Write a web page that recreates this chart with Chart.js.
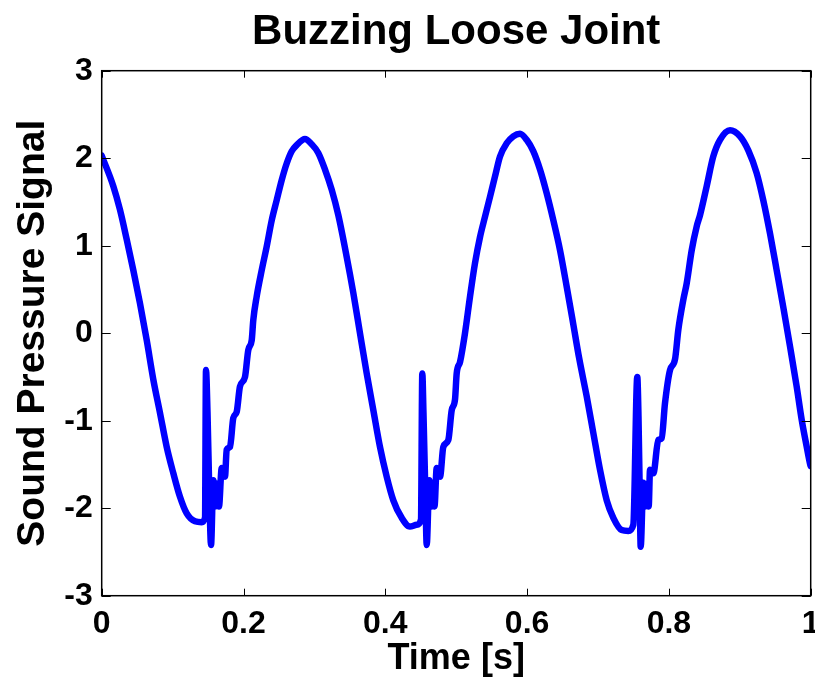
<!DOCTYPE html>
<html>
<head>
<meta charset="utf-8">
<title>Buzzing Loose Joint</title>
<script src="https://cdn.jsdelivr.net/npm/chart.js@4.4.1/dist/chart.umd.min.js"></script>
<style>
  html, body { margin: 0; padding: 0; background: #fff; }
  #wrap { width: 815px; height: 682px; }
</style>
</head>
<body>
<div id="wrap"><canvas id="chart" width="815" height="682"></canvas></div>
<script>
// time axis [s]
const timeValues = [
  0, 0.0164, 0.0258, 0.0353, 0.0446, 0.054, 0.0635, 0.0728, 0.0822, 0.0917,
  0.101, 0.1104, 0.1199, 0.1316, 0.141, 0.1457, 0.1471, 0.1492, 0.152, 0.1542,
  0.1574, 0.1598, 0.1626, 0.1654, 0.1693, 0.1739, 0.1763, 0.181, 0.1856, 0.1904,
  0.195, 0.2021, 0.2068, 0.2116, 0.2138, 0.2186, 0.2257, 0.2327, 0.2398, 0.2468,
  0.2539, 0.2609, 0.268, 0.275, 0.2867, 0.2962, 0.3055, 0.315, 0.3244, 0.3337,
  0.3456, 0.3549, 0.3643, 0.3738, 0.3831, 0.3925, 0.402, 0.4113, 0.4231, 0.4348,
  0.4443, 0.4503, 0.4522, 0.4538, 0.4567, 0.4584, 0.4621, 0.4652, 0.4673, 0.4694,
  0.4725, 0.4772, 0.4818, 0.4889, 0.4937, 0.4983, 0.5007, 0.5054, 0.5124, 0.5195,
  0.5265, 0.5336, 0.5406, 0.5477, 0.5547, 0.5618, 0.5712, 0.5805, 0.59, 0.5994,
  0.6087, 0.6182, 0.6276, 0.637, 0.6464, 0.6559, 0.6652, 0.6733, 0.684, 0.6934,
  0.7028, 0.7123, 0.7216, 0.7334, 0.7427, 0.7498, 0.7554, 0.7571, 0.759, 0.7602,
  0.7639, 0.7663, 0.7698, 0.7715, 0.7734, 0.7781, 0.785, 0.7898, 0.7945, 0.8016,
  0.8086, 0.8133, 0.8203, 0.8251, 0.8322, 0.8392, 0.8439, 0.8533, 0.8626, 0.8721,
  0.8862, 0.9003, 0.912, 0.9238, 0.9331, 0.9426, 0.952, 0.9613, 0.9708, 0.9802,
  0.9873, 0.9944, 0.999, 1
];

// sound pressure signal
const pressureValues = [
  2.03, 1.68, 1.41, 1.07, 0.72, 0.34, -0.08, -0.53, -0.91, -1.30,
  -1.60, -1.87, -2.06, -2.15, -2.16, -2.11, -0.42, -0.90, -1.90, -2.42,
  -1.68, -1.98, -1.72, -1.98, -1.54, -1.64, -1.33, -1.30, -0.97, -0.90,
  -0.61, -0.50, -0.19, -0.08, 0.15, 0.42, 0.72, 0.99, 1.29, 1.52,
  1.75, 1.94, 2.08, 2.15, 2.22, 2.16, 2.06, 1.87, 1.64, 1.35,
  0.87, 0.46, 0.0, -0.46, -0.88, -1.30, -1.64, -1.91, -2.11, -2.21,
  -2.19, -2.13, -0.46, -0.90, -1.90, -2.42, -1.68, -1.98, -1.72, -1.98,
  -1.54, -1.64, -1.30, -1.22, -0.88, -0.76, -0.46, -0.33, 0.0, 0.42,
  0.80, 1.10, 1.33, 1.56, 1.79, 2.02, 2.17, 2.25, 2.28, 2.21,
  2.08, 1.87, 1.60, 1.29, 0.95, 0.53, 0.10, -0.28, -0.72, -1.14,
  -1.56, -1.91, -2.11, -2.25, -2.26, -2.19, -0.50, -0.95, -1.90, -2.44,
  -1.71, -1.98, -1.72, -1.98, -1.56, -1.60, -1.22, -1.20, -0.80, -0.42,
  -0.30, 0.04, 0.38, 0.57, 0.95, 1.22, 1.35, 1.68, 2.02, 2.21,
  2.32, 2.25, 2.09, 1.83, 1.52, 1.14, 0.72, 0.30, -0.15, -0.61,
  -0.99, -1.30, -1.49, -1.52
];

const xTicks = [0, 0.2, 0.4, 0.6, 0.8, 1];
const yTicks = [-3, -2, -1, 0, 1, 2, 3];

const FONT = '"Liberation Sans", Arial, sans-serif';
const TITLE = 'Buzzing Loose Joint';

// MATLAB style box with inward ticks on all four sides, title centred over the axes
const boxPlugin = {
  id: 'matlabBox',
  afterDraw(chart) {
    const { ctx, chartArea: a, scales } = chart;
    ctx.save();
    ctx.strokeStyle = '#000';
    ctx.lineWidth = 1.5;
    ctx.strokeRect(a.left, a.top, a.right - a.left, a.bottom - a.top);
    ctx.lineWidth = 1;
    ctx.beginPath();
    xTicks.forEach((v) => {
      const px = Math.round(scales.x.getPixelForValue(v)) + 0.5;
      ctx.moveTo(px, a.bottom); ctx.lineTo(px, a.bottom - 7);
      ctx.moveTo(px, a.top); ctx.lineTo(px, a.top + 7);
    });
    yTicks.forEach((v) => {
      const py = Math.round(scales.y.getPixelForValue(v)) + 0.5;
      ctx.moveTo(a.left, py); ctx.lineTo(a.left + 9, py);
      ctx.moveTo(a.right, py); ctx.lineTo(a.right - 9, py);
    });
    ctx.stroke();

    ctx.fillStyle = '#000';
    ctx.font = 'bold 42px ' + FONT;
    ctx.textAlign = 'center';
    ctx.textBaseline = 'alphabetic';
    ctx.fillText(TITLE, (a.left + a.right) / 2, 44);
    ctx.restore();
  },
};

new Chart(document.getElementById('chart'), {
  type: 'line',
  data: {
    datasets: [{
      label: 'Sound Pressure Signal',
      data: timeValues.map((t, i) => ({ x: t, y: pressureValues[i] })),
      borderColor: '#0000ff',
      borderWidth: 6.5,
      pointRadius: 0,
      cubicInterpolationMode: 'monotone',
      borderJoinStyle: 'round',
      borderCapStyle: 'round',
      fill: false,
    }],
  },
  options: {
    responsive: false,
    animation: false,
    layout: { padding: { left: 0, right: 4.3, top: 70.7, bottom: 0 } },
    plugins: {
      legend: { display: false },
      tooltip: { enabled: false },
      title: { display: false },
    },
    scales: {
      x: {
        type: 'linear',
        min: 0,
        max: 1,
        afterBuildTicks(scale) { scale.ticks = xTicks.map((v) => ({ value: v })); },
        afterFit(scale) { scale.height = 86.3; scale.paddingLeft = 0; scale.paddingRight = 0; },
        grid: { display: false, drawTicks: false },
        border: { display: false },
        ticks: {
          color: '#000',
          padding: 9,
          maxRotation: 0,
          font: { family: FONT, size: 32, weight: 'bold' },
          callback: (v) => String(Math.round(v * 10) / 10),
        },
        title: {
          display: true,
          text: 'Time [s]',
          color: '#000',
          font: { family: FONT, size: 36, weight: 'bold' },
          padding: { top: 0, bottom: 1.5 },
        },
      },
      y: {
        min: -3,
        max: 3,
        afterBuildTicks(scale) { scale.ticks = yTicks.map((v) => ({ value: v })); },
        afterFit(scale) { scale.width = 101.7; scale.paddingTop = 0; scale.paddingBottom = 0; },
        grid: { display: false, drawTicks: false },
        border: { display: false },
        ticks: {
          color: '#000',
          padding: 9,
          font: { family: FONT, size: 32, weight: 'bold' },
        },
        title: {
          display: true,
          text: 'Sound Pressure Signal',
          color: '#000',
          font: { family: FONT, size: 39, weight: 'bold' },
          padding: { top: 10, bottom: 0 },
        },
      },
    },
  },
  plugins: [boxPlugin],
});
</script>
</body>
</html>
